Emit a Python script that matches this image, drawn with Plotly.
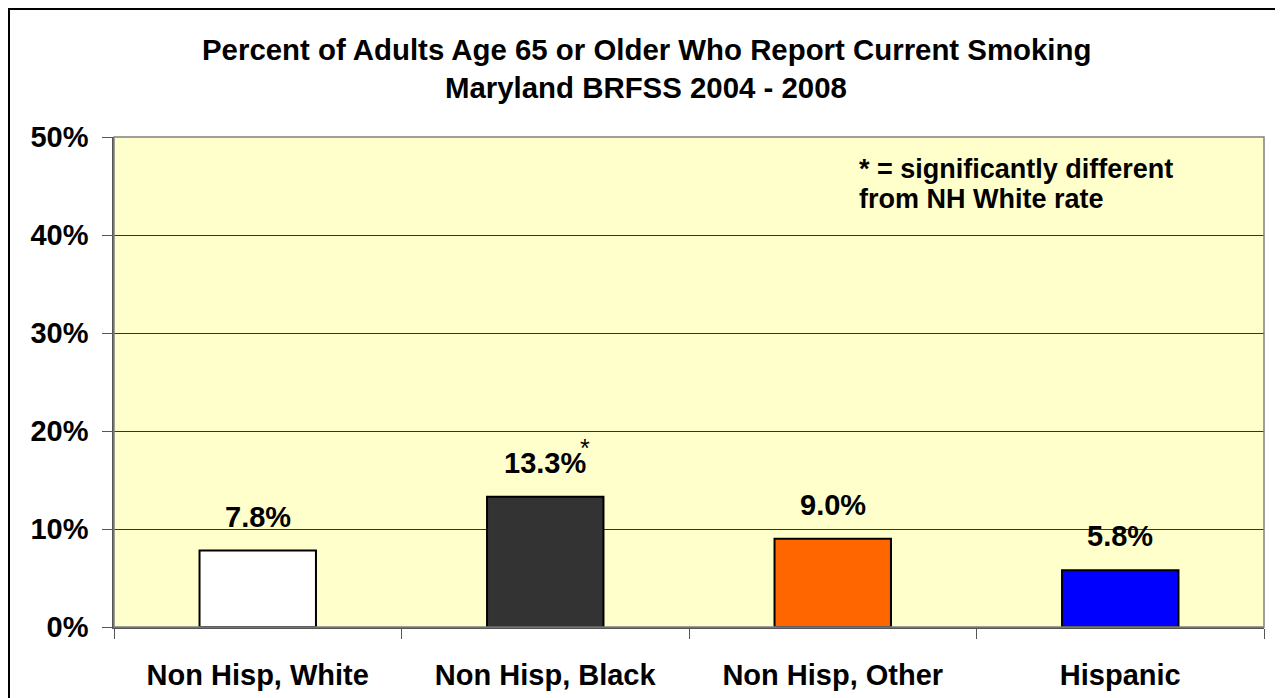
import plotly.graph_objects as go

categories = ["Non Hisp, White", "Non Hisp, Black", "Non Hisp, Other", "Hispanic"]
values = [7.8, 13.3, 9.0, 5.8]
value_labels = ["7.8%", "13.3%", "9.0%", "5.8%"]
bar_colors = ["#FFFFFF", "#333333", "#FF6600", "#0000FF"]
y_ticks = [0, 10, 20, 30, 40, 50]
y_tick_labels = ["0%", "10%", "20%", "30%", "40%", "50%"]
significant = ["Non Hisp, Black"]
title_lines = ["Percent of Adults Age 65 or Older Who Report Current Smoking",
               "Maryland BRFSS 2004 - 2008"]
note_lines = ["* = significantly different", "from NH White rate"]

FONT = "Arial, Liberation Sans, sans-serif"

# page offset (browser body margin) is 8px; plot area spans page x 114..1264, y 137..627
def px_to_paper_x(px):
    return (px - 114) / 1150

def px_to_paper_y(py):
    return (627 - py) / 490

fig = go.Figure()
fig.add_trace(go.Bar(
    x=categories, y=values,
    marker=dict(color=bar_colors, line=dict(color="#000000", width=2)),
    hoverinfo="skip",
))

annotations = []
for c, v, lab in zip(categories, values, value_labels):
    annotations.append(dict(x=c, y=v, xref="x", yref="y", text="<b>%s</b>" % lab,
                            showarrow=False, yanchor="middle", yshift=34,
                            font=dict(family=FONT, size=29, color="#000")))
for c in significant:
    v = values[categories.index(c)]
    annotations.append(dict(x=c, y=v, xref="x", yref="y", text="*",
                            showarrow=False, yanchor="middle", xshift=40, yshift=49,
                            font=dict(family=FONT, size=25, color="#000")))
title_y_px = [49, 88]
for i, t in enumerate(title_lines):
    annotations.append(dict(x=px_to_paper_x(646), y=px_to_paper_y(title_y_px[i]),
                            xref="paper", yref="paper", xanchor="center", yanchor="middle",
                            text="<b>%s</b>" % t, showarrow=False,
                            font=dict(family=FONT, size=29.4, color="#000")))
note_y_px = [169, 199]
for i, t in enumerate(note_lines):
    annotations.append(dict(x=px_to_paper_x(857), y=px_to_paper_y(note_y_px[i]),
                            xref="paper", yref="paper", xanchor="left", yanchor="middle",
                            text="<b>%s</b>" % t, showarrow=False, align="left",
                            font=dict(family=FONT, size=27, color="#000")))

shapes = [
    dict(type="rect", xref="paper", yref="paper", x0=0, x1=1, y0=0, y1=1,
         line=dict(color="#808080", width=1.5), layer="above"),
    dict(type="rect", xref="paper", yref="paper",
         x0=px_to_paper_x(9), x1=px_to_paper_x(1280),
         y0=px_to_paper_y(740), y1=px_to_paper_y(9),
         line=dict(color="#000000", width=2)),
]

fig.update_layout(
    width=1275, height=690,
    margin=dict(l=106, r=19, t=129, b=71),
    paper_bgcolor="#FFFFFF", plot_bgcolor="#FFFFCC",
    bargap=0.595, showlegend=False,
    annotations=annotations, shapes=shapes,
    font=dict(family=FONT, color="#000"),
    xaxis=dict(type="category", tickson="boundaries", ticks="outside", ticklen=10,
               tickcolor="#555", showline=True, linecolor="#555", linewidth=1.5,
               showgrid=False, tickfont=dict(family=FONT, size=29, color="#000"),
               ticklabelstandoff=21, tickprefix="<b>", ticksuffix="</b>",
               automargin=False),
    yaxis=dict(range=[0, 50], tickvals=y_ticks,
               ticktext=["<b>%s</b>" % t for t in y_tick_labels],
               ticks="outside", ticklen=10, tickcolor="#555", showline=True,
               linecolor="#555", linewidth=1.5, showgrid=True, gridcolor="#333",
               gridwidth=1, zeroline=False, automargin=False,
               tickfont=dict(family=FONT, size=29, color="#000"), ticklabelstandoff=8),
)

fig.write_html("out.html")
